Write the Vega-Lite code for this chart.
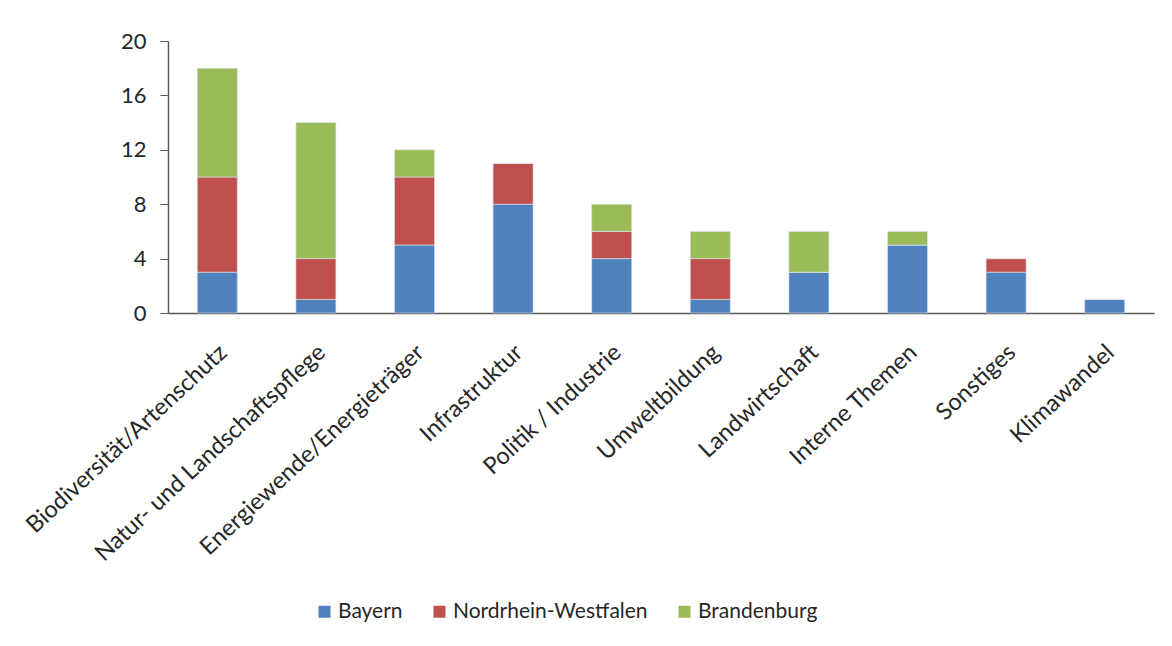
{
  "$schema": "https://vega.github.io/schema/vega-lite/v6.json",
  "width": 986,
  "height": 272,
  "autosize": {"type": "none"},
  "padding": {"left": 168, "top": 41, "right": 18, "bottom": 333},
  "background": "white",
  "config": {
    "view": {"stroke": null},
    "font": "Lato",
    "axis": {"labelFont": "Lato", "labelColor": "#262626", "domainColor": "#595959", "tickColor": "#595959"}
  },
  "data": {
    "values": [
      {"Thema": "Biodiversität/Artenschutz", "Land": "Bayern", "Anzahl": 3},
      {"Thema": "Biodiversität/Artenschutz", "Land": "Nordrhein-Westfalen", "Anzahl": 7},
      {"Thema": "Biodiversität/Artenschutz", "Land": "Brandenburg", "Anzahl": 8},
      {"Thema": "Natur- und Landschaftspflege", "Land": "Bayern", "Anzahl": 1},
      {"Thema": "Natur- und Landschaftspflege", "Land": "Nordrhein-Westfalen", "Anzahl": 3},
      {"Thema": "Natur- und Landschaftspflege", "Land": "Brandenburg", "Anzahl": 10},
      {"Thema": "Energiewende/Energieträger", "Land": "Bayern", "Anzahl": 5},
      {"Thema": "Energiewende/Energieträger", "Land": "Nordrhein-Westfalen", "Anzahl": 5},
      {"Thema": "Energiewende/Energieträger", "Land": "Brandenburg", "Anzahl": 2},
      {"Thema": "Infrastruktur", "Land": "Bayern", "Anzahl": 8},
      {"Thema": "Infrastruktur", "Land": "Nordrhein-Westfalen", "Anzahl": 3},
      {"Thema": "Infrastruktur", "Land": "Brandenburg", "Anzahl": 0},
      {"Thema": "Politik / Industrie", "Land": "Bayern", "Anzahl": 4},
      {"Thema": "Politik / Industrie", "Land": "Nordrhein-Westfalen", "Anzahl": 2},
      {"Thema": "Politik / Industrie", "Land": "Brandenburg", "Anzahl": 2},
      {"Thema": "Umweltbildung", "Land": "Bayern", "Anzahl": 1},
      {"Thema": "Umweltbildung", "Land": "Nordrhein-Westfalen", "Anzahl": 3},
      {"Thema": "Umweltbildung", "Land": "Brandenburg", "Anzahl": 2},
      {"Thema": "Landwirtschaft", "Land": "Bayern", "Anzahl": 3},
      {"Thema": "Landwirtschaft", "Land": "Nordrhein-Westfalen", "Anzahl": 0},
      {"Thema": "Landwirtschaft", "Land": "Brandenburg", "Anzahl": 3},
      {"Thema": "Interne Themen", "Land": "Bayern", "Anzahl": 5},
      {"Thema": "Interne Themen", "Land": "Nordrhein-Westfalen", "Anzahl": 0},
      {"Thema": "Interne Themen", "Land": "Brandenburg", "Anzahl": 1},
      {"Thema": "Sonstiges", "Land": "Bayern", "Anzahl": 3},
      {"Thema": "Sonstiges", "Land": "Nordrhein-Westfalen", "Anzahl": 1},
      {"Thema": "Sonstiges", "Land": "Brandenburg", "Anzahl": 0},
      {"Thema": "Klimawandel", "Land": "Bayern", "Anzahl": 1},
      {"Thema": "Klimawandel", "Land": "Nordrhein-Westfalen", "Anzahl": 0},
      {"Thema": "Klimawandel", "Land": "Brandenburg", "Anzahl": 0}
    ]
  },
  "transform": [
    {"calculate": "indexof(['Bayern','Nordrhein-Westfalen','Brandenburg'], datum.Land)", "as": "ord"}
  ],
  "mark": {"type": "bar", "stroke": "#dce6f2", "strokeWidth": 0.6},
  "encoding": {
    "x": {
      "field": "Thema",
      "type": "nominal",
      "sort": null,
      "scale": {"paddingInner": 0.594, "paddingOuter": 0.297},
      "axis": {
        "title": null,
        "labelAngle": -43,
        "labelFontSize": 23.5,
        "labelLimit": 500,
        "ticks": false,
        "labelPadding": 27,
        "labelOffset": -2,
        "domainWidth": 1.5
      }
    },
    "y": {
      "field": "Anzahl",
      "type": "quantitative",
      "stack": "zero",
      "scale": {"domain": [0, 20], "nice": false},
      "axis": {
        "title": null,
        "values": [0, 4, 8, 12, 16, 20],
        "grid": false,
        "tickSize": 8,
        "labelPadding": 14,
        "labelFontSize": 22,
        "domainWidth": 1.5
      }
    },
    "color": {
      "field": "Land",
      "type": "nominal",
      "scale": {
        "domain": ["Bayern", "Nordrhein-Westfalen", "Brandenburg"],
        "range": ["#4f81bd", "#c0504d", "#9bbb59"]
      },
      "legend": {
        "title": null,
        "orient": "none",
        "direction": "horizontal",
        "legendX": 146,
        "legendY": 560,
        "symbolType": "square",
        "symbolSize": 144,
        "symbolStrokeWidth": 0,
        "labelFontSize": 21,
        "labelFont": "Lato",
        "labelColor": "#262626",
        "labelLimit": 400,
        "labelOffset": 3,
        "columnPadding": 26
      }
    },
    "order": {"field": "ord", "type": "quantitative"}
  }
}
